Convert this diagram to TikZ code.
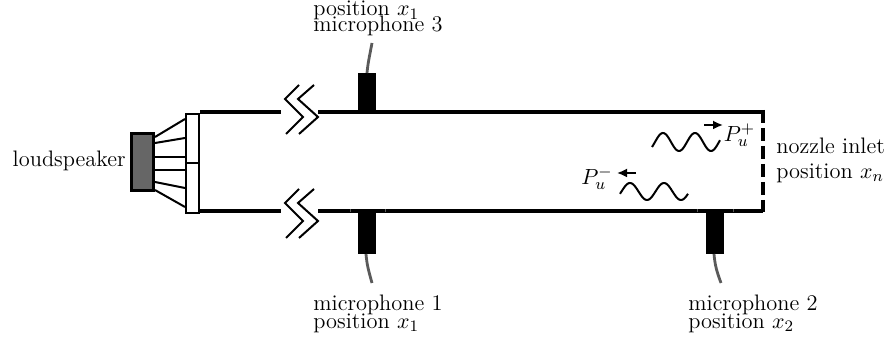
\documentclass[tikz,border=0pt]{standalone}
\usepackage{amsmath,amssymb}
\usepackage{tikz}
\usetikzlibrary{calc, positioning, arrows.meta}
\definecolor{cablegrey}{RGB}{90,90,90}
\definecolor{speakergrey}{RGB}{102,102,102}
\tikzset{
  tubewall/.style={line width=1.7pt},
  miccable/.style={cablegrey, line width=1.4pt},
  coneline/.style={line width=1pt},
  breakline/.style={line width=1pt},
  waveline/.style={line width=1pt},
  wavearrow/.style={-{Latex[length=5pt,width=4.5pt]}, line width=0.9pt},
  labeltext/.style={align=left, inner sep=0pt, anchor=west},
}
\begin{document}
\begin{tikzpicture}[x=0.5pt, y=-0.5pt, font=\fontsize{11.2}{13}\selectfont]
  \useasboundingbox (0,0) rectangle (894,340);
  % tube
  \draw[tubewall] (200,112) -- (281,112);
  \draw[tubewall] (318,112) -- (763,112);
  \draw[tubewall] (200,211) -- (281,211);
  \draw[tubewall] (318,211) -- (763,211);
  \draw[line width=2pt, dash pattern=on 6.5pt off 2.5pt] (762.5,110) -- (762.5,212);
  % tube breaks
  \foreach \y in {0,104} {
    \draw[breakline] (299,189-\y) -- (285,203-\y) -- (303,221-\y) -- (286,238-\y);
    \draw[breakline] (314,189-\y) -- (298,203-\y) -- (318,221-\y) -- (299,238-\y);
  }
  % loudspeaker
  \node[draw, line width=1.4pt, fill=speakergrey, minimum width=11.1pt, minimum height=28.6pt, inner sep=0pt] (speaker) at (142.5,162) {};
  \node[draw, line width=1.2pt, fill=white, minimum width=6.5pt, minimum height=49.5pt, inner sep=0pt] (baffle) at (192.5,163.5) {};
  \draw[line width=1.2pt] (baffle.west |- 0,163) -- (baffle.east |- 0,163);
  \foreach \a/\b in {137/119, 143/138, 157/157, 170/170, 182/188, 190/207} {
    \draw[coneline] (155,\a) -- (185,\b);
  }
  % microphones
  \fill (358,73) rectangle (376,112);
  \fill (358,211) rectangle (376,254);
  \fill (706,211) rectangle (724,254);
  \draw[miccable] (367,73) .. controls (368,62) and (370,54) .. (372,43);
  \draw[miccable] (366,254) .. controls (367,266) and (369,272) .. (372,283);
  \draw[miccable] (714,254) .. controls (715,266) and (717,272) .. (721,283);
  \foreach \x in {350,385,697,733} {
    \draw[cablegrey, line width=0.3pt] (\x,209.5) -- (\x,212.5);
  }
  % waves
  \draw[waveline] plot[domain=652:720, samples=70, smooth] (\x,{142-9*sin(11.25*(\x-655))});
  \draw[waveline] plot[domain=620:688, samples=70, smooth] (\x,{191.5-8.5*sin(10.59*(\x-621.5))});
  \draw[wavearrow] (704,125) -- (723,125);
  \draw[wavearrow] (636,173) -- (617,173);
  % labels
  \node[labeltext] (micthree) at (313,18.7) {position $x_1$\\[-5pt]microphone 3};
  \node[labeltext] (micone) at (313,313.5) {microphone 1\\[-4pt]position $x_1$};
  \node[labeltext] (mictwo) at (688,313.5) {microphone 2\\[-4pt]position $x_2$};
  \node[labeltext] (nozzle) at (776,160) {nozzle inlet\\[-0.5pt]position $x_n$};
  \node[anchor=base east, inner sep=0pt] (speakerlabel) at (126,167) {loudspeaker};
  \node[inner sep=0pt] (pplus) at (739.5,135) {$P_u^+$};
  \node[inner sep=0pt] (pminus) at (597,178) {$P_u^-$};
\end{tikzpicture}
\end{document}
